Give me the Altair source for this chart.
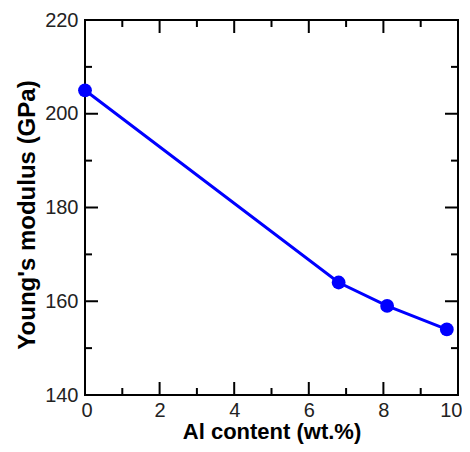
import altair as alt
import pandas as pd

# data
al_content = [0, 6.8, 8.1, 9.7]
youngs_modulus = [205, 164, 159, 154]

y_labels = [140, 160, 180, 200, 220]
x_labels = [0, 2, 4, 6, 8, 10]
y_major_ticks = [160, 180, 200]
y_minor_ticks = [150, 170, 190, 210]
x_major_ticks = [2, 4, 6, 8]
x_minor_ticks = [1, 3, 5, 7, 9]

W, H = 373, 375
MAJ, MIN = 13, 7
FONT = "Liberation Sans"

df = pd.DataFrame({"Al": al_content, "E": youngs_modulus})

xscale = alt.Scale(domain=[0, 10], nice=False, zero=False)
yscale = alt.Scale(domain=[140, 220], nice=False, zero=False)

xaxis = alt.Axis(values=x_labels, ticks=False, domain=False, grid=False,
                 labelFontSize=20, labelFont=FONT, labelColor="#222",
                 labelPadding=5, titleFontSize=22, titleFont=FONT,
                 titleFontWeight="bold", titleColor="#000", titlePadding=1,
                 labelFlush=True, labelFlushOffset=4)
yaxis = alt.Axis(values=y_labels, ticks=False, domain=False, grid=False,
                 labelFontSize=20, labelFont=FONT, labelColor="#222",
                 labelPadding=7, titleFontSize=24, titleFont=FONT,
                 titleFontWeight="bold", titleColor="#000", titlePadding=5,
                 titleY=H / 2 + 7, labelFlush=False)

XT = "Al content (wt.%)"
YT = "Young's modulus (GPa)"


def X(field="Al"):
    return alt.X(f"{field}:Q", scale=xscale, axis=xaxis, title=XT)


def Y(field="E"):
    return alt.Y(f"{field}:Q", scale=yscale, axis=yaxis, title=YT)


line = alt.Chart(df).mark_line(color="#0000ff", strokeWidth=3).encode(x=X(), y=Y())
pts = alt.Chart(df).mark_circle(color="#0000ff", size=190, opacity=1).encode(x=X(), y=Y())

layers = []
tick_style = dict(color="#000", strokeWidth=2)
for vals, ln in [(y_major_ticks, MAJ), (y_minor_ticks, MIN)]:
    d = pd.DataFrame({"E": vals})
    layers.append(alt.Chart(d).mark_rule(**tick_style).encode(
        y=Y(), x=alt.value(0), x2=alt.value(ln)))
    layers.append(alt.Chart(d).mark_rule(**tick_style).encode(
        y=Y(), x=alt.value(W - ln), x2=alt.value(W)))
for vals, ln in [(x_major_ticks, MAJ), (x_minor_ticks, MIN)]:
    d = pd.DataFrame({"Al": vals})
    layers.append(alt.Chart(d).mark_rule(**tick_style).encode(
        x=X(), y=alt.value(H), y2=alt.value(H - ln)))
    layers.append(alt.Chart(d).mark_rule(**tick_style).encode(
        x=X(), y=alt.value(0), y2=alt.value(ln)))

chart = alt.layer(line, pts, *layers).properties(
    width=W, height=H,
    autosize="none",
    background="white",
    padding={"left": 77, "top": 12, "right": 4, "bottom": 49},
).configure_view(stroke="#000", strokeWidth=2)

chart.save("out.html", embed_options={"renderer": "svg", "actions": False})
